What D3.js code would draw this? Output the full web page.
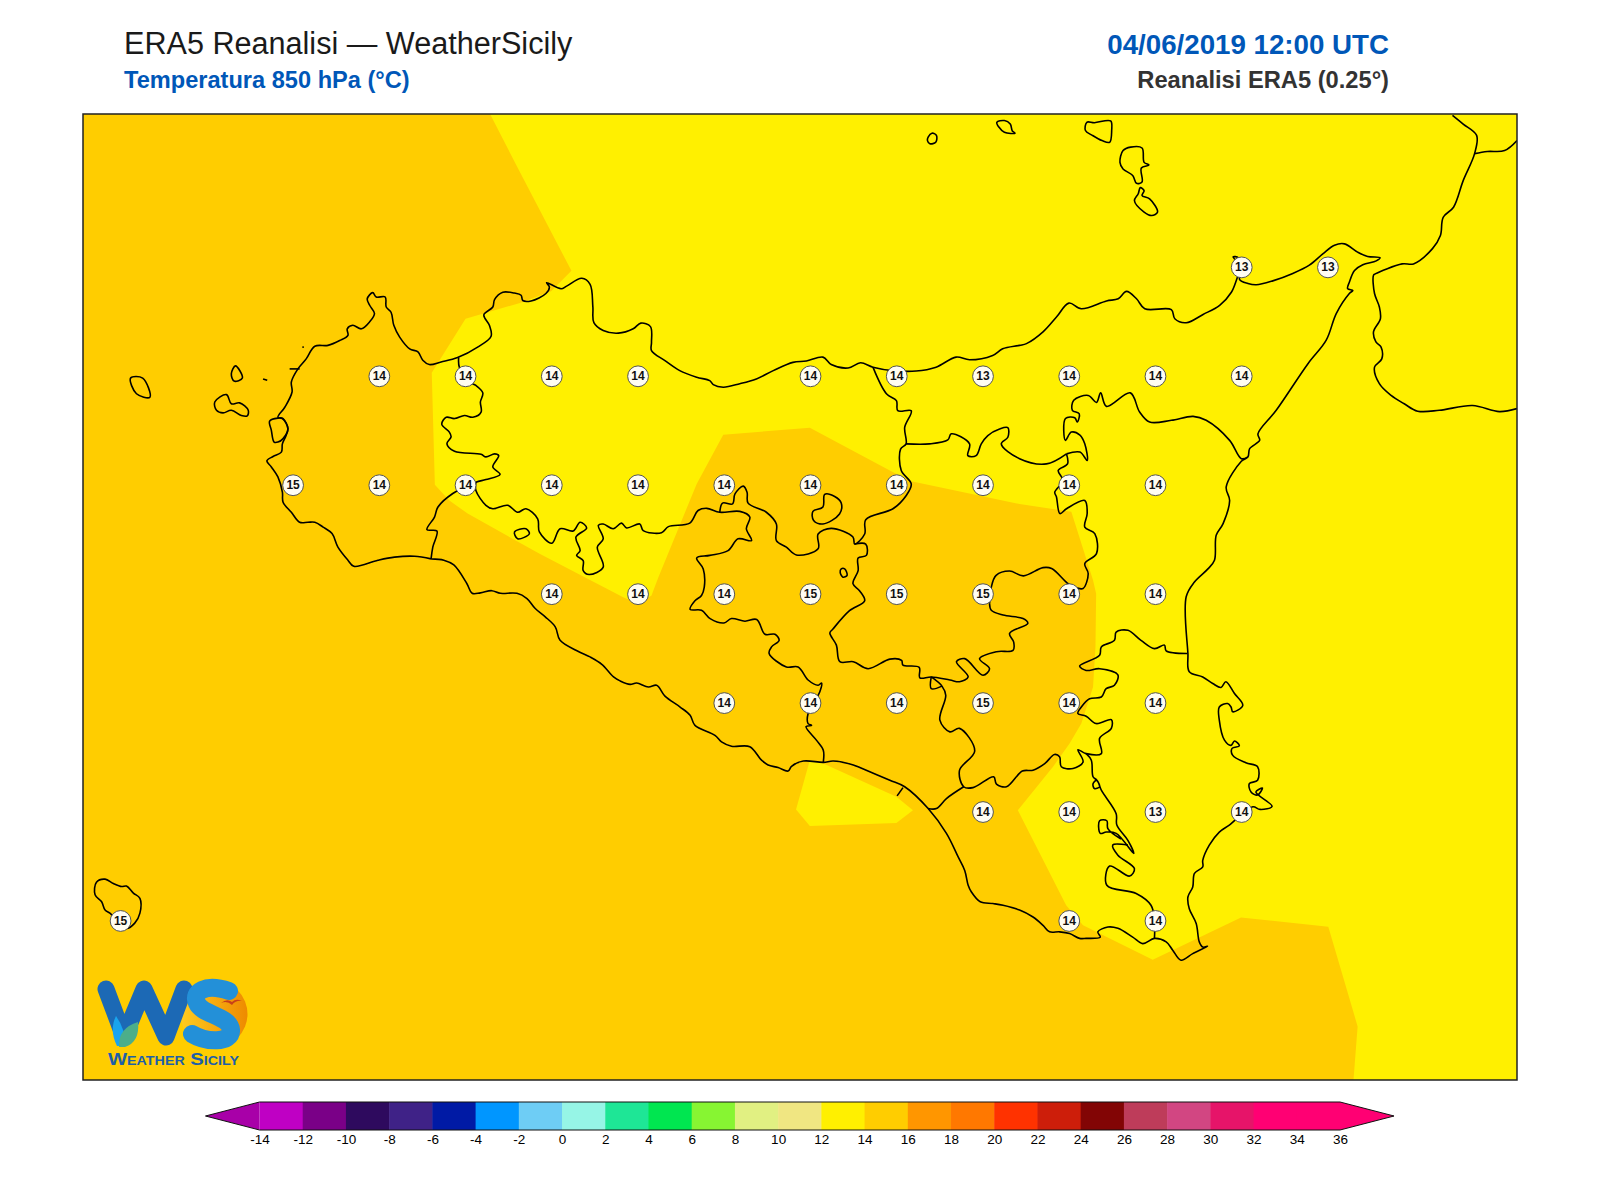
<!DOCTYPE html>
<html>
<head>
<meta charset="utf-8">
<script src="https://cdn.jsdelivr.net/npm/d3@7"></script>
<style>
body { margin: 0; background: #fff; }
text { font-family: "Liberation Sans", Arial, sans-serif; }
</style>
</head>
<body>
<svg id="map" width="1600" height="1200"></svg>
<script>
// colour bar
const levels = [-14,-12,-10,-8,-6,-4,-2,0,2,4,6,8,10,12,14,16,18,20,22,24,26,28,30,32,34,36];
const levelColors = ["#bf00c4","#7a0087","#2e0a5e","#3f2287","#001aa5","#0096ff","#6ecdf5","#96f5e6","#1ee696","#00e650","#87f532","#e1f082","#f0e682","#fff000","#ffcd00","#ff9600","#ff7800","#ff3200","#cd1e0a","#820505","#be3c5a","#d24682","#e61469","#ff0073","#ff0073"];
const underColor = "#a800a8";
const overColor = "#ff0073";

// T850 at the grid points
const gridLon =  [15.25,15.5, 12.75,13,13.25,13.5,14,14.25,14.5,14.75,15,15.25, 12.5,12.75,13,13.25,13.5,13.75,14,14.25,14.5,14.75,15, 13.25,13.5,13.75,14,14.25,14.5,14.75,15, 13.75,14,14.25,14.5,14.75,15, 14.5,14.75,15,15.25, 12,14.75,15];
const gridLat =  [38.25,38.25, 38,38,38,38,38,38,38,38,38,38, 37.75,37.75,37.75,37.75,37.75,37.75,37.75,37.75,37.75,37.75,37.75, 37.5,37.5,37.5,37.5,37.5,37.5,37.5,37.5, 37.25,37.25,37.25,37.25,37.25,37.25, 37,37,37,37, 36.75,36.75,36.75];
const gridTemp = [13,13, 14,14,14,14,14,14,13,14,14,14, 15,14,14,14,14,14,14,14,14,14,14, 14,14,14,15,15,15,14,14, 14,14,14,15,14,14, 14,14,13,14, 15,14,14];

// area below 14 degrees, the rest of the frame is the 14-16 band
const yellowMain = [[13.071,38.602],[13.145,38.488],[13.307,38.242],[13.248,38.195],[13.160,38.169],[13.000,38.132],[12.902,38.008],[12.911,37.751],[12.953,37.715],[13.006,37.685],[13.216,37.592],[13.457,37.493],[13.501,37.478],[13.539,37.497],[13.559,37.539],[13.670,37.753],[13.747,37.866],[13.998,37.882],[14.249,37.776],[14.292,37.759],[14.606,37.707],[14.756,37.689],[14.819,37.532],[14.828,37.501],[14.826,37.379],[14.819,37.287],[14.785,37.203],[14.751,37.157],[14.703,37.104],[14.601,37.004],[14.741,36.786],[14.790,36.740],[14.992,36.661],[15.248,36.758],[15.501,36.737],[15.586,36.508],[15.574,36.385],[16.048,36.385],[16.048,38.602]];
const yellowGela = [[13.998,37.119],[13.958,37.006],[13.998,36.968],[14.249,36.975],[14.297,37.004],[14.249,37.035],[14.027,37.115]];

const sicilyCoast = [[12.900,37.581],[12.852,37.587],[12.794,37.585],[12.746,37.578],[12.676,37.564],[12.659,37.578],[12.630,37.608],[12.613,37.639],[12.587,37.654],[12.563,37.665],[12.543,37.665],[12.519,37.665],[12.495,37.688],[12.471,37.711],[12.469,37.734],[12.456,37.769],[12.437,37.792],[12.424,37.806],[12.442,37.816],[12.466,37.826],[12.469,37.845],[12.478,37.861],[12.485,37.880],[12.471,37.903],[12.456,37.906],[12.476,37.929],[12.497,37.964],[12.495,37.987],[12.514,38.017],[12.538,38.040],[12.563,38.069],[12.601,38.071],[12.635,38.082],[12.659,38.094],[12.657,38.109],[12.673,38.117],[12.698,38.109],[12.722,38.125],[12.736,38.144],[12.722,38.163],[12.715,38.178],[12.731,38.192],[12.741,38.182],[12.767,38.182],[12.770,38.159],[12.784,38.147],[12.792,38.117],[12.809,38.090],[12.838,38.063],[12.862,38.056],[12.876,38.037],[12.895,38.027],[12.929,38.033],[12.977,38.043],[13.035,38.067],[13.074,38.092],[13.069,38.117],[13.053,38.141],[13.079,38.159],[13.084,38.176],[13.108,38.193],[13.141,38.191],[13.161,38.186],[13.166,38.174],[13.190,38.173],[13.233,38.190],[13.243,38.205],[13.235,38.215],[13.277,38.201],[13.293,38.207],[13.337,38.225],[13.361,38.211],[13.369,38.160],[13.372,38.123],[13.399,38.105],[13.443,38.099],[13.486,38.109],[13.508,38.122],[13.536,38.114],[13.539,38.078],[13.539,38.059],[13.578,38.036],[13.621,38.013],[13.670,37.998],[13.708,37.990],[13.718,37.981],[13.747,37.975],[13.795,37.983],[13.843,37.994],[13.892,38.013],[13.949,38.032],[13.988,38.035],[14.036,38.044],[14.060,38.027],[14.109,38.019],[14.145,38.031],[14.181,38.021],[14.239,38.013],[14.306,38.012],[14.364,38.021],[14.422,38.044],[14.461,38.038],[14.528,38.048],[14.557,38.063],[14.606,38.071],[14.626,38.075],[14.674,38.102],[14.713,38.136],[14.749,38.168],[14.785,38.155],[14.858,38.173],[14.892,38.178],[14.916,38.195],[14.945,38.178],[14.969,38.155],[15.046,38.153],[15.056,38.132],[15.089,38.123],[15.138,38.142],[15.186,38.163],[15.220,38.193],[15.236,38.224],[15.246,38.247],[15.240,38.272],[15.225,38.274],[15.249,38.250],[15.244,38.222],[15.268,38.213],[15.292,38.210],[15.340,38.219],[15.398,38.236],[15.446,38.255],[15.485,38.281],[15.519,38.301],[15.548,38.304],[15.586,38.285],[15.615,38.275],[15.651,38.272],[15.640,38.265],[15.601,38.256],[15.577,38.243],[15.562,38.216],[15.557,38.201],[15.572,38.197],[15.562,38.190],[15.524,38.144],[15.495,38.083],[15.442,38.029],[15.350,37.922],[15.297,37.868],[15.302,37.853],[15.273,37.834],[15.268,37.815],[15.249,37.805],[15.205,37.746],[15.215,37.715],[15.196,37.662],[15.176,37.635],[15.171,37.578],[15.152,37.558],[15.113,37.528],[15.089,37.494],[15.094,37.364],[15.098,37.322],[15.137,37.310],[15.166,37.295],[15.190,37.286],[15.204,37.299],[15.229,37.272],[15.253,37.245],[15.224,37.230],[15.219,37.241],[15.209,37.249],[15.185,37.241],[15.185,37.211],[15.200,37.165],[15.219,37.153],[15.229,37.163],[15.243,37.152],[15.222,37.146],[15.224,37.130],[15.262,37.113],[15.296,37.104],[15.296,37.073],[15.272,37.065],[15.277,37.046],[15.296,37.039],[15.310,37.055],[15.291,37.046],[15.338,37.013],[15.303,37.006],[15.282,37.012],[15.214,36.970],[15.185,36.954],[15.156,36.924],[15.137,36.889],[15.137,36.874],[15.113,36.859],[15.108,36.828],[15.094,36.805],[15.098,36.778],[15.118,36.744],[15.127,36.702],[15.137,36.690],[15.151,36.692],[15.108,36.675],[15.074,36.660],[15.050,36.683],[15.031,36.702],[14.997,36.710],[14.963,36.698],[14.934,36.713],[14.891,36.733],[14.862,36.736],[14.833,36.725],[14.840,36.713],[14.799,36.710],[14.780,36.710],[14.751,36.721],[14.722,36.725],[14.693,36.725],[14.674,36.740],[14.645,36.759],[14.606,36.775],[14.558,36.786],[14.529,36.790],[14.492,36.794],[14.466,36.817],[14.457,36.832],[14.447,36.866],[14.428,36.897],[14.394,36.951],[14.341,37.008],[14.273,37.058],[14.230,37.073],[14.143,37.102],[14.124,37.108],[14.066,37.117],[14.037,37.114],[13.979,37.117],[13.945,37.105],[13.935,37.094],[13.906,37.102],[13.877,37.108],[13.858,37.119],[13.824,37.150],[13.771,37.151],[13.742,37.161],[13.723,37.176],[13.665,37.199],[13.651,37.222],[13.622,37.241],[13.578,37.266],[13.554,37.291],[13.530,37.287],[13.496,37.296],[13.477,37.293],[13.448,37.301],[13.429,37.310],[13.395,37.339],[13.361,37.356],[13.323,37.370],[13.274,37.394],[13.260,37.425],[13.231,37.448],[13.202,37.467],[13.178,37.490],[13.149,37.502],[13.101,37.502],[13.076,37.508],[13.043,37.503],[13.019,37.502],[13.004,37.524],[12.966,37.567],[12.937,37.578],[12.900,37.581]];

const calabriaCoast = [[15.861,38.599],[15.892,38.579],[15.931,38.553],[15.925,38.511],[15.892,38.449],[15.864,38.388],[15.834,38.365],[15.826,38.323],[15.803,38.293],[15.748,38.258],[15.715,38.258],[15.637,38.235],[15.632,38.232],[15.635,38.190],[15.649,38.159],[15.652,38.132],[15.632,38.102],[15.639,38.079],[15.654,38.067],[15.656,38.040],[15.635,38.021],[15.649,37.983],[15.683,37.956],[15.721,37.937],[15.760,37.920],[15.823,37.922],[15.919,37.933],[15.997,37.919],[16.048,37.926]];
const calabriaBorder = [[15.925,38.511],[15.962,38.516],[16.012,38.518],[16.048,38.541]];

const islands = [
  [[14.341,38.549],[14.352,38.558],[14.365,38.553],[14.363,38.537],[14.346,38.534],[14.339,38.541]], // Alicudi
  [[14.540,38.583],[14.562,38.587],[14.579,38.579],[14.585,38.563],[14.593,38.558],[14.562,38.560],[14.546,38.572]], // Filicudi
  [[14.801,38.583],[14.823,38.582],[14.870,38.586],[14.873,38.564],[14.867,38.537],[14.845,38.541],[14.817,38.553],[14.797,38.564]], // Salina
  [[14.906,38.518],[14.928,38.526],[14.961,38.524],[14.967,38.491],[14.981,38.485],[14.959,38.478],[14.961,38.446],[14.945,38.443],[14.934,38.461],[14.906,38.476],[14.897,38.491]], // Lipari
  [[14.956,38.433],[14.967,38.426],[14.961,38.415],[14.983,38.407],[15.006,38.377],[14.989,38.369],[14.967,38.377],[14.939,38.403],[14.950,38.419]], // Vulcano
  [[12.029,37.996],[12.064,37.996],[12.085,37.952],[12.046,37.960]], // Marettimo
  [[12.333,38.024],[12.353,37.996],[12.329,37.989],[12.321,38.006]], // Levanzo
  [[12.273,37.941],[12.307,37.958],[12.321,37.937],[12.345,37.939],[12.370,37.922],[12.367,37.909],[12.350,37.910],[12.321,37.922],[12.297,37.916],[12.278,37.922]], // Favignana
  [[11.930,36.839],[11.955,36.846],[11.979,36.836],[12.003,36.829],[12.017,36.830],[12.037,36.814],[12.056,36.802],[12.056,36.768],[12.041,36.745],[12.017,36.733],[11.969,36.768],[11.955,36.775],[11.945,36.794],[11.926,36.810]], // Pantelleria
  [[12.432,37.897],[12.456,37.904],[12.469,37.903],[12.485,37.880],[12.471,37.857],[12.456,37.849],[12.445,37.849],[12.437,37.876]], // Stagnone
  [[13.142,37.643],[13.175,37.650],[13.185,37.639],[13.151,37.627]], // Lago Arancio
  [[14.041,37.729],[14.070,37.724],[14.089,37.709],[14.084,37.684],[14.036,37.661],[14.009,37.669],[14.007,37.690],[14.036,37.700]], // Pa exclave
  [[14.089,37.558],[14.099,37.558],[14.106,37.543],[14.094,37.539],[14.086,37.550]] // Pergusa
];

const borders = [
  // Trapani / Palermo
  [[12.980,38.043],[12.982,38.021],[13.011,37.987],[13.030,37.979],[13.050,37.962],[13.043,37.941],[13.045,37.918],[13.021,37.906],[12.997,37.910],[12.968,37.903],[12.944,37.906],[12.931,37.890],[12.953,37.872],[12.958,37.861],[12.946,37.845],[12.968,37.828],[13.045,37.821],[13.059,37.815],[13.084,37.822],[13.096,37.818],[13.079,37.792],[13.100,37.775],[13.059,37.763],[13.030,37.757],[12.963,37.731],[12.920,37.700],[12.910,37.677],[12.888,37.648],[12.917,37.645],[12.905,37.608],[12.900,37.581]],
  // Palermo / Agrigento / Caltanissetta
  [[13.030,37.757],[13.030,37.738],[13.059,37.704],[13.079,37.696],[13.122,37.704],[13.151,37.688],[13.175,37.696],[13.209,37.673],[13.214,37.643],[13.250,37.617],[13.274,37.650],[13.312,37.645],[13.332,37.665],[13.351,37.652],[13.320,37.631],[13.332,37.600],[13.322,37.589],[13.341,37.577],[13.341,37.554],[13.358,37.545],[13.399,37.562],[13.382,37.608],[13.399,37.627],[13.385,37.658],[13.399,37.661],[13.428,37.650],[13.452,37.663],[13.467,37.652],[13.505,37.661],[13.515,37.646],[13.568,37.641],[13.588,37.655],[13.650,37.663],[13.674,37.692],[13.699,37.697],[13.737,37.688],[13.795,37.690],[13.824,37.677],[13.814,37.650],[13.829,37.623],[13.790,37.627],[13.761,37.600],[13.708,37.589],[13.670,37.583],[13.689,37.558],[13.692,37.516],[13.684,37.497],[13.665,37.485],[13.651,37.465],[13.684,37.463],[13.709,37.444],[13.749,37.434],[13.771,37.444],[13.810,37.438],[13.844,37.442],[13.868,37.408],[13.897,37.408],[13.909,37.394],[13.887,37.379],[13.880,37.364],[13.930,37.333],[13.964,37.333],[13.993,37.303],[14.022,37.291],[14.032,37.296],[14.027,37.276],[13.993,37.226],[13.993,37.203],[14.003,37.199],[13.987,37.196],[14.017,37.165],[14.037,37.142],[14.037,37.114]],
  // Palermo / Caltanissetta / Enna / Messina
  [[13.737,37.688],[13.745,37.709],[13.774,37.707],[13.781,37.730],[13.805,37.748],[13.816,37.734],[13.819,37.709],[13.872,37.688],[13.901,37.661],[13.901,37.623],[13.930,37.608],[13.959,37.590],[14.022,37.604],[14.022,37.638],[14.060,37.651],[14.123,37.631],[14.128,37.615],[14.157,37.638],[14.160,37.671],[14.239,37.696],[14.277,37.726],[14.292,37.753],[14.263,37.784],[14.261,37.833],[14.277,37.845],[14.273,37.883],[14.292,37.921],[14.253,37.921],[14.249,37.944],[14.220,37.960],[14.181,38.021]],
  // Enna / Caltanissetta / Ragusa
  [[14.128,37.615],[14.160,37.615],[14.162,37.589],[14.138,37.583],[14.138,37.554],[14.123,37.524],[14.142,37.508],[14.157,37.485],[14.113,37.462],[14.065,37.420],[14.056,37.411],[14.075,37.383],[14.085,37.345],[14.124,37.345],[14.167,37.329],[14.230,37.351],[14.264,37.348],[14.268,37.337],[14.315,37.332],[14.317,37.308],[14.350,37.310],[14.404,37.303],[14.432,37.299],[14.457,37.310],[14.423,37.345],[14.447,37.352],[14.500,37.314],[14.519,37.329],[14.490,37.352],[14.539,37.368],[14.587,37.371],[14.589,37.390],[14.577,37.410],[14.630,37.433],[14.616,37.444],[14.558,37.452],[14.524,37.463],[14.519,37.478]],
  // Enna / Catania, east side
  [[14.519,37.478],[14.524,37.516],[14.538,37.543],[14.577,37.553],[14.617,37.542],[14.674,37.561],[14.699,37.559],[14.747,37.524],[14.770,37.515],[14.790,37.513],[14.805,37.547],[14.795,37.570],[14.829,37.593],[14.824,37.639],[14.795,37.654],[14.802,37.685],[14.795,37.715],[14.742,37.696],[14.723,37.685],[14.713,37.723],[14.708,37.734],[14.732,37.761],[14.718,37.784],[14.745,37.799],[14.742,37.822]],
  // Enna / Messina
  [[14.277,37.845],[14.345,37.845],[14.398,37.854],[14.408,37.868],[14.461,37.845],[14.456,37.818],[14.480,37.818],[14.495,37.845],[14.514,37.864],[14.548,37.879],[14.572,37.882],[14.572,37.860],[14.553,37.845],[14.606,37.811],[14.684,37.799],[14.742,37.822]],
  // Catania / Messina
  [[14.742,37.822],[14.781,37.826],[14.802,37.807],[14.795,37.845],[14.781,37.865],[14.756,37.872],[14.739,37.853],[14.739,37.903],[14.766,37.905],[14.773,37.895],[14.779,37.914],[14.759,37.922],[14.763,37.945],[14.805,37.956],[14.829,37.940],[14.841,37.962],[14.858,37.931],[14.927,37.962],[14.954,37.918],[14.983,37.895],[15.046,37.899],[15.109,37.908],[15.147,37.899],[15.215,37.853],[15.249,37.811],[15.268,37.815]],
  // Catania / Siracusa / Ragusa
  [[15.092,37.364],[15.031,37.370],[15.026,37.383],[14.997,37.375],[14.958,37.394],[14.920,37.417],[14.886,37.413],[14.881,37.394],[14.843,37.379],[14.838,37.360],[14.780,37.335],[14.799,37.325],[14.838,37.329],[14.891,37.315],[14.881,37.291],[14.857,37.283],[14.843,37.264],[14.809,37.260],[14.785,37.241],[14.775,37.226],[14.799,37.220],[14.828,37.203],[14.872,37.212],[14.872,37.192],[14.838,37.169],[14.843,37.134],[14.799,37.134],[14.775,37.143],[14.790,37.115],[14.761,37.100],[14.727,37.104],[14.722,37.127],[14.707,37.132],[14.679,37.111],[14.645,37.096],[14.614,37.094],[14.568,37.058],[14.539,37.064],[14.531,37.081],[14.471,37.056],[14.444,37.058],[14.432,37.096],[14.476,37.140],[14.432,37.192],[14.404,37.184],[14.375,37.211],[14.392,37.268],[14.381,37.289],[14.350,37.310]],
  [[14.350,37.310],[14.350,37.283],[14.381,37.289]],
  [[14.444,37.058],[14.394,37.031],[14.365,37.008],[14.341,37.008]],
  // Siracusa / Ragusa
  [[14.799,37.134],[14.814,37.119],[14.819,37.081],[14.830,37.073],[14.838,37.058],[14.823,37.054],[14.819,37.065],[14.830,37.073],[14.843,37.050],[14.886,36.996],[14.888,36.970],[14.920,36.935],[14.937,36.905],[14.886,36.951],[14.857,36.954],[14.840,36.951],[14.838,36.980],[14.859,36.980],[14.862,36.962],[14.900,36.938]],
  [[14.920,36.924],[14.876,36.924],[14.891,36.901],[14.939,36.870],[14.925,36.853],[14.867,36.876],[14.859,36.832],[14.944,36.813],[14.987,36.786],[14.997,36.752],[14.997,36.710]],
  // Gela jetty
  [[14.251,37.037],[14.268,37.056]],
  // Formica, small rock and Trapani salt pans
  [[12.413,37.994],[12.425,37.991]],
  [[12.527,38.067],[12.531,38.067]],
  [[12.490,38.017],[12.519,38.017]]
];

const svg = d3.select("#map");

// map frame
const frame = { left: 83, right: 1517, top: 114, bottom: 1080 };
const x = d3.scaleLinear().domain([11.891, 16.048]).range([frame.left, frame.right]);
const y = d3.scaleLinear().domain([38.602, 36.385]).range([frame.top, frame.bottom]);
const line = d3.line().x(d => x(d[0])).y(d => y(d[1]));
const coastLine = d3.line().x(d => x(d[0])).y(d => y(d[1])).curve(d3.curveCatmullRom.alpha(0.5));
const islandLine = d3.line().x(d => x(d[0])).y(d => y(d[1])).curve(d3.curveCatmullRomClosed.alpha(0.5));

svg.append("clipPath").attr("id", "frameClip")
  .append("rect")
  .attr("x", frame.left).attr("y", frame.top)
  .attr("width", frame.right - frame.left).attr("height", frame.bottom - frame.top);

const map = svg.append("g").attr("clip-path", "url(#frameClip)");

map.append("rect")
  .attr("x", frame.left).attr("y", frame.top)
  .attr("width", frame.right - frame.left).attr("height", frame.bottom - frame.top)
  .attr("fill", levelColors[14]);

map.selectAll("path.band")
  .data([yellowMain, yellowGela])
  .enter().append("path")
  .attr("class", "band")
  .attr("d", d => line(d) + "Z")
  .attr("fill", levelColors[13]);

map.selectAll("path.coast")
  .data([sicilyCoast, calabriaCoast, calabriaBorder])
  .enter().append("path")
  .attr("class", "coast")
  .attr("d", coastLine);

map.selectAll("path.island")
  .data(islands)
  .enter().append("path")
  .attr("class", "island")
  .attr("d", islandLine);

map.selectAll("path.border")
  .data(borders)
  .enter().append("path")
  .attr("class", "border")
  .attr("d", coastLine);

map.selectAll("path.coast, path.island, path.border")
  .attr("fill", "none")
  .attr("stroke", "#000")
  .attr("stroke-width", 1.6)
  .attr("stroke-linejoin", "round");

// grid point values
const points = map.selectAll("g.point")
  .data(gridTemp)
  .enter().append("g")
  .attr("class", "point")
  .attr("transform", (d, i) => `translate(${x(gridLon[i])},${y(gridLat[i])})`);

points.append("circle")
  .attr("r", 10.4)
  .attr("fill", "#fffdf2")
  .attr("stroke", "#555")
  .attr("stroke-width", 1);

points.append("text")
  .attr("text-anchor", "middle")
  .attr("y", 4)
  .attr("font-size", 12)
  .attr("font-weight", "bold")
  .attr("fill", "#111")
  .text(d => d);

// logo, the letters are shapes in the original too
const logo = svg.append("g").attr("fill", "none").attr("stroke-linejoin", "round").attr("stroke-linecap", "round");
const sunGrad = svg.append("defs").append("linearGradient").attr("id", "sunGrad");
sunGrad.append("stop").attr("offset", "0%").attr("stop-color", "#ffcc20");
sunGrad.append("stop").attr("offset", "100%").attr("stop-color", "#ee8a00");
logo.append("circle").attr("cx", 214).attr("cy", 1014).attr("r", 33.5).attr("fill", "url(#sunGrad)");
logo.append("path").attr("d", "M106 989 L124 1037 L144 989 L166 1037 L184 989")
  .attr("stroke", "#1c69b5").attr("stroke-width", 17);
logo.append("path").attr("d", "M229 991 C205 983 192 992 197 1003 C202 1015 230 1016 231 1030 C232 1044 205 1042 192 1034")
  .attr("stroke", "#2390d8").attr("stroke-width", 18);
logo.append("path").attr("d", "M117 1046 Q109 1030 116 1016 Q126 1030 125 1046Z").attr("fill", "#19a4ee");
logo.append("path").attr("d", "M119 1047 Q118 1028 138 1022 Q140 1042 125 1047Z").attr("fill", "#4cae8a");
logo.append("path").attr("d", "M221 1003 Q227 998 232 1002 Q236 998 242 1001 Q236 1000 232 1005 Q227 1000 221 1003Z").attr("fill", "#c8401a");
svg.append("text").attr("x", 108).attr("y", 1065).attr("font-size", 17).attr("font-weight", "bold")
  .attr("font-variant", "small-caps").attr("textLength", 131).attr("lengthAdjust", "spacingAndGlyphs")
  .attr("fill", "#1d5fa8").text("Weather Sicily");

// frame on top
svg.append("rect")
  .attr("x", frame.left).attr("y", frame.top)
  .attr("width", frame.right - frame.left).attr("height", frame.bottom - frame.top)
  .attr("fill", "none").attr("stroke", "#222").attr("stroke-width", 1.5);

// titles
svg.append("text").attr("x", 124).attr("y", 54).attr("font-size", 30.6).attr("fill", "#1a1a1a").text("ERA5 Reanalisi — WeatherSicily");
svg.append("text").attr("x", 124).attr("y", 88).attr("font-size", 23.6).attr("font-weight", "bold").attr("fill", "#0057b8").text("Temperatura 850 hPa (°C)");
svg.append("text").attr("x", 1389).attr("y", 54).attr("text-anchor", "end").attr("font-size", 27.7).attr("font-weight", "bold").attr("fill", "#0057b8").text("04/06/2019 12:00 UTC");
svg.append("text").attr("x", 1389).attr("y", 88).attr("text-anchor", "end").attr("font-size", 23.7).attr("font-weight", "bold").attr("fill", "#333").text("Reanalisi ERA5 (0.25°)");

// colour bar
const cbX = d3.scaleLinear().domain([-14, 36]).range([259.5, 1340]);
const cbTop = 1102, cbBottom = 1130, cbMid = 1116;
const cb = svg.append("g");

cb.selectAll("rect")
  .data(levelColors)
  .enter().append("rect")
  .attr("x", (d, i) => cbX(levels[i]))
  .attr("y", cbTop)
  .attr("width", (d, i) => cbX(levels[i + 1]) - cbX(levels[i]) + 0.5)
  .attr("height", cbBottom - cbTop)
  .attr("fill", d => d);

const under = [[-14, cbTop], [-16.5, cbMid], [-14, cbBottom]];
const over = [[36, cbTop], [38.5, cbMid], [36, cbBottom]];
const cbLine = d3.line().x(d => cbX(d[0])).y(d => d[1]);
cb.append("path").attr("d", cbLine(under) + "Z").attr("fill", underColor);
cb.append("path").attr("d", cbLine(over) + "Z").attr("fill", overColor);
cb.append("path")
  .attr("d", cbLine([[-14, cbBottom], [-16.5, cbMid], [-14, cbTop], [36, cbTop], [38.5, cbMid], [36, cbBottom], [-14, cbBottom]]))
  .attr("fill", "none").attr("stroke", "#111").attr("stroke-width", 1);

const cbAxis = d3.axisBottom(cbX).tickValues(levels).tickSize(0).tickPadding(4).tickFormat(d => String(d));
const cbAxisG = cb.append("g").attr("transform", `translate(0,${cbBottom})`).call(cbAxis);
cbAxisG.select(".domain").remove();
cbAxisG.selectAll("text").attr("font-size", 13.5).attr("fill", "#000").style("font-family", '"Liberation Sans", Arial, sans-serif');
</script>
</body>
</html>
